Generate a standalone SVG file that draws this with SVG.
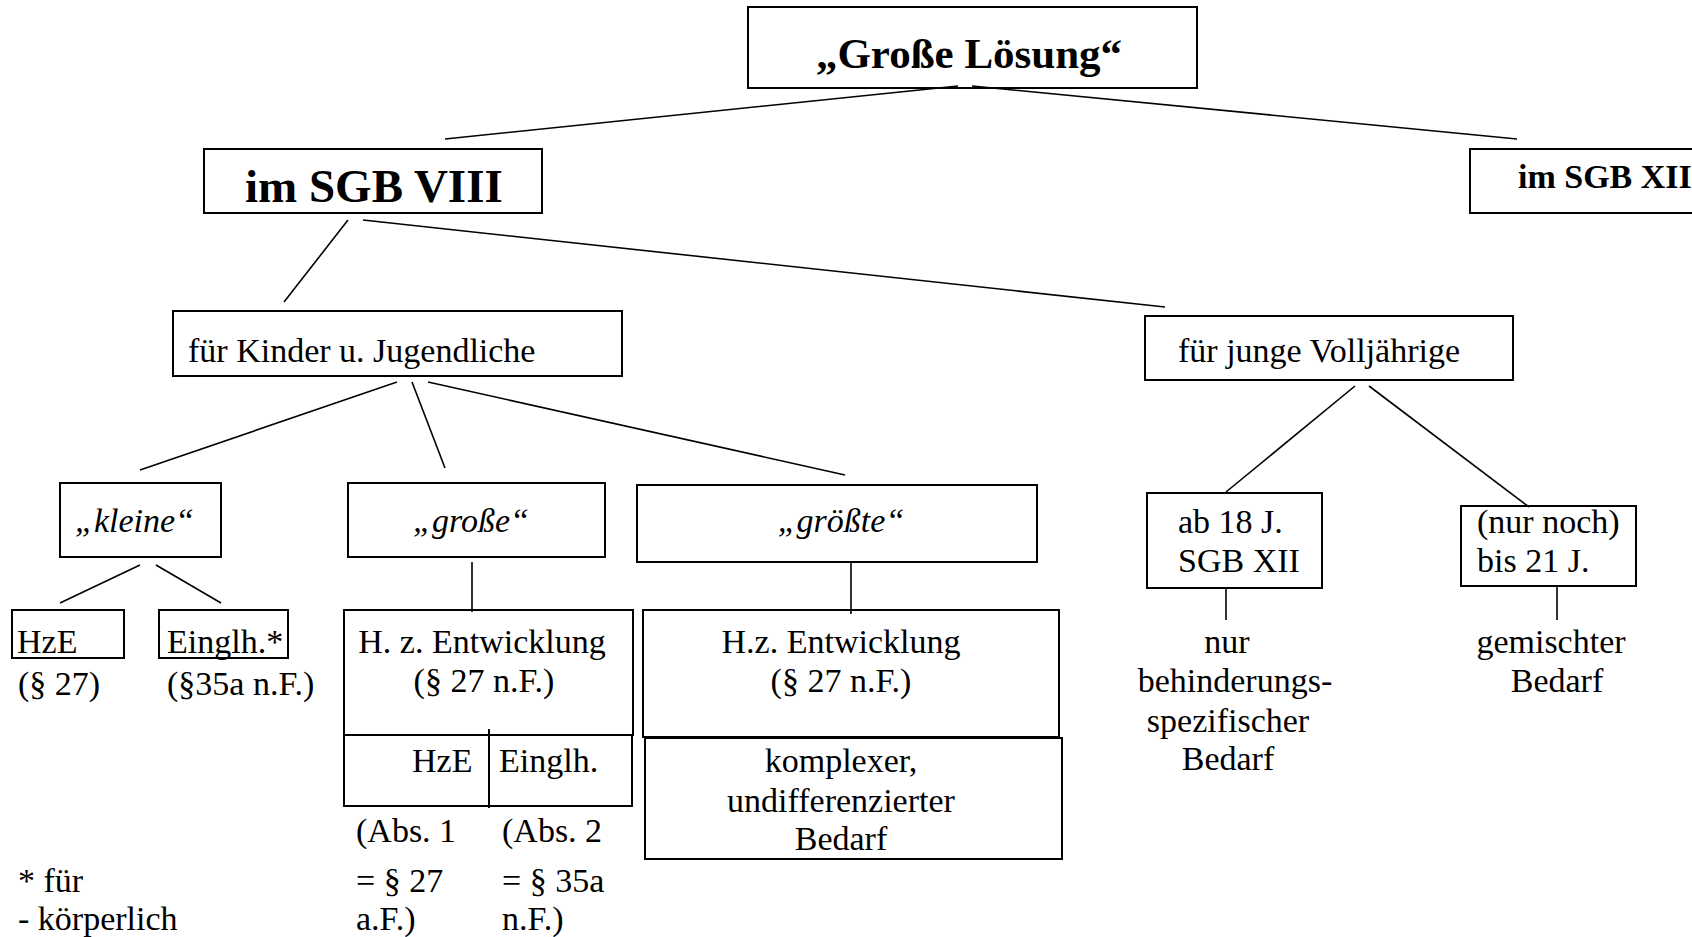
<svg xmlns="http://www.w3.org/2000/svg" width="1692" height="937" viewBox="0 0 1692 937">
<style>
text{font-family:"Liberation Serif","Times New Roman",serif;font-size:34px;fill:#000}
.b{font-weight:bold}
.i{font-style:italic}
.m{text-anchor:middle}
rect{fill:none;stroke:#000;stroke-width:2}
.c line{stroke:#000;stroke-width:1.6}
</style>
<rect x="0" y="0" width="1692" height="937" style="fill:#fff;stroke:none"/>
<g class="c" id="connectors">
<line x1="958" y1="86" x2="445" y2="139"/>
<line x1="972" y1="86" x2="1517" y2="139"/>
<line x1="348" y1="220" x2="284" y2="302"/>
<line x1="363" y1="220" x2="1165" y2="307"/>
<line x1="397" y1="382" x2="140" y2="470"/>
<line x1="412" y1="382" x2="445" y2="468"/>
<line x1="428" y1="382" x2="845" y2="475"/>
<line x1="140" y1="565" x2="60" y2="603"/>
<line x1="156" y1="565" x2="221" y2="603"/>
<line x1="472" y1="562" x2="472" y2="612"/>
<line x1="851" y1="562" x2="851" y2="614"/>
<line x1="1355" y1="386" x2="1226" y2="492"/>
<line x1="1369" y1="386" x2="1529" y2="507"/>
<line x1="1226" y1="588" x2="1226" y2="620"/>
<line x1="1557" y1="586" x2="1557" y2="620"/>
</g>
<g id="grosse-loesung">
<rect x="748" y="7" width="449" height="81"/>
<text class="b m" x="969" y="68" style="font-size:43px">„Große Lösung“</text>
</g>
<g id="sgb8">
<rect x="204" y="149" width="338" height="64"/>
<text class="b" x="245" y="202" style="font-size:47px">im SGB VIII</text>
</g>
<g id="sgb12">
<rect x="1470" y="149" width="240" height="64"/>
<text class="b" x="1518" y="188" style="font-size:34px">im SGB XII</text>
</g>
<g id="kinder">
<rect x="173" y="311" width="449" height="65"/>
<text x="188" y="362">für Kinder u. Jugendliche</text>
</g>
<g id="volljaehrige">
<rect x="1145" y="316" width="368" height="64"/>
<text x="1178" y="362">für junge Volljährige</text>
</g>
<g id="kleine">
<rect x="60" y="483" width="161" height="74"/>
<text class="i" x="75" y="532">„kleine“</text>
</g>
<g id="hze">
<rect x="12" y="610" width="112" height="48"/>
<text x="17" y="653">HzE</text>
<text x="18" y="695">(§ 27)</text>
</g>
<g id="einglh">
<rect x="159" y="610" width="129" height="48"/>
<text x="167" y="653">Einglh.*</text>
<text x="167" y="695">(§35a n.F.)</text>
</g>
<g id="footnote">
<text x="18" y="892">* für</text>
<text x="18" y="930">- körperlich</text>
</g>
<g id="grosse">
<rect x="348" y="483" width="257" height="74"/>
<text class="i m" x="471" y="532">„große“</text>
</g>
<g id="entwicklung1">
<rect x="344" y="610" width="289" height="125"/>
<rect x="344" y="735" width="288" height="71"/>
<line x1="489" y1="729" x2="489" y2="808" stroke="#000" stroke-width="2"/>
<text class="m" x="482" y="653">H. z. Entwicklung</text>
<text class="m" x="484" y="692">(§ 27 n.F.)</text>
<text x="412" y="772">HzE</text>
<text x="499" y="772">Einglh.</text>
<text x="356" y="842">(Abs. 1</text>
<text x="502" y="842">(Abs. 2</text>
<text x="356" y="892">= § 27</text>
<text x="502" y="892">= § 35a</text>
<text x="356" y="930">a.F.)</text>
<text x="502" y="930">n.F.)</text>
</g>
<g id="groesste">
<rect x="637" y="485" width="400" height="77"/>
<text class="i m" x="841" y="532">„größte“</text>
</g>
<g id="entwicklung2">
<rect x="643" y="610" width="416" height="127"/>
<rect x="645" y="738" width="417" height="121"/>
<text class="m" x="841" y="653">H.z. Entwicklung</text>
<text class="m" x="841" y="692">(§ 27 n.F.)</text>
<text class="m" x="841" y="772">komplexer,</text>
<text class="m" x="841" y="812">undifferenzierter</text>
<text class="m" x="841" y="850">Bedarf</text>
</g>
<g id="ab18">
<rect x="1147" y="493" width="175" height="95"/>
<text x="1178" y="533">ab 18 J.</text>
<text x="1178" y="572">SGB XII</text>
</g>
<g id="behinderung">
<text class="m" x="1227" y="653">nur</text>
<text class="m" x="1235" y="692">behinderungs-</text>
<text class="m" x="1228" y="732">spezifischer</text>
<text class="m" x="1228" y="770">Bedarf</text>
</g>
<g id="bis21">
<rect x="1461" y="506" width="175" height="80"/>
<text x="1477" y="533">(nur noch)</text>
<text x="1477" y="572">bis 21 J.</text>
</g>
<g id="gemischt">
<text class="m" x="1551" y="653">gemischter</text>
<text class="m" x="1557" y="692">Bedarf</text>
</g>
</svg>
